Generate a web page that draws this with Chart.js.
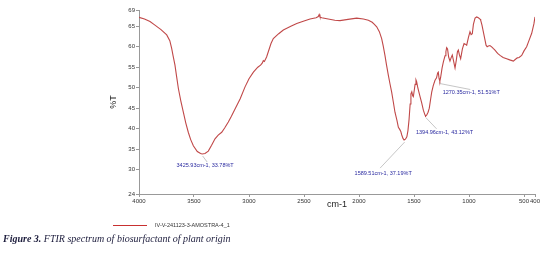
<!DOCTYPE html>
<html><head><meta charset="utf-8">
<script src="https://cdn.jsdelivr.net/npm/chart.js@4/dist/chart.umd.min.js"></script>
<style>
html,body{margin:0;padding:0;background:#fff;}
#wrap{position:relative;width:550px;height:254px;overflow:hidden;}
#c{position:absolute;left:0;top:0;}
#legend{position:absolute;left:113px;top:222px;font:5.5px "Liberation Sans",Arial,sans-serif;color:#333;white-space:nowrap;}
#legend span.line{display:inline-block;width:34px;height:1.5px;background:#c83030;vertical-align:middle;margin-right:8px;}
#caption{position:absolute;left:3px;top:233px;font:italic 10px "Liberation Serif","Times New Roman",serif;color:#1c1c3c;white-space:nowrap;}
#caption b{font-weight:bold;}
</style></head>
<body>
<div id="wrap">
<canvas id="c" width="550" height="254"></canvas>
<div id="legend"><span class="line"></span>IV-V-241123-3-AMOSTRA-4_1</div>
<div id="caption"><b>Figure 3.</b> FTIR spectrum of biosurfactant of plant origin</div>
</div>
<script>
const seriesName = "IV-V-241123-3-AMOSTRA-4_1";
const wavenumbers = [4000,3950,3900,3855,3800,3748,3720,3703,3690,3673,3658,3642,3620,3597,3575,3552,3530,3506,3470,3440,3426,3400,3370,3340,3309,3280,3248,3220,3188,3160,3127,3080,3036,3000,2960,2920,2895,2880,2870,2860,2840,2800,2779,2730,2688,2620,2566,2500,2445,2390,2370,2362,2355,2339,2280,2220,2173,2100,2021,1960,1915,1880,1860,1839,1815,1794,1780,1764,1750,1733,1718,1703,1688,1673,1655,1642,1630,1620,1612,1600,1590,1578,1565,1555,1545,1535,1528,1520,1512,1506,1497,1490,1482,1476,1468,1460,1445,1430,1415,1400,1395,1385,1372,1361,1350,1339,1325,1309,1295,1285,1279,1272,1265,1258,1245,1233,1218,1210,1203,1195,1185,1173,1163,1152,1140,1127,1115,1105,1097,1087,1076,1060,1045,1030,1021,1005,991,981,970,960,945,930,915,900,894,882,870,857,845,835,824,810,794,780,764,740,718,690,658,630,597,580,561,545,521,500,476,455,430,410,400];
const transmittance = [67.2,66.8,66.2,65.3,64.2,62.9,61.5,59.6,57.8,55.5,52.7,49.8,46.8,44.0,41.4,39.1,37.3,35.8,34.4,33.9,33.8,33.9,34.5,35.9,37.5,38.4,39.1,40.2,41.6,43.0,44.8,47.3,50.2,52.2,53.8,55.0,55.5,56.0,56.6,56.4,57.5,60.8,62.0,63.2,64.1,65.0,65.7,66.3,66.8,67.1,67.4,67.9,67.3,67.1,66.8,66.5,66.4,66.7,67.0,66.8,66.5,66.0,65.5,64.9,63.7,62.0,60.2,57.9,55.6,53.0,50.9,48.9,46.5,44.0,42.0,40.3,39.8,39.3,38.5,37.6,37.2,37.4,38.0,39.5,42.2,46.0,48.5,49.0,48.0,47.8,49.5,50.8,51.9,51.5,50.3,49.4,47.8,46.3,44.5,43.3,43.1,43.3,44.0,45.0,47.0,48.9,50.5,51.8,52.4,53.6,53.8,52.2,51.6,52.5,54.8,56.3,57.8,58.8,59.8,59.5,57.5,56.5,57.3,58.0,56.5,54.8,56.8,58.8,59.2,58.0,57.1,59.5,60.8,60.6,60.4,62.3,63.7,63.0,63.2,65.5,67.0,67.3,67.1,66.8,66.5,65.3,63.7,62.0,60.4,60.0,60.2,60.3,60.0,59.6,59.2,58.4,57.9,57.4,57.1,56.8,56.5,56.9,57.3,57.4,57.9,59.0,60.0,61.5,63.3,65.6,67.3];
const xTicks = [4000,3500,3000,2500,2000,1500,1000,500,400];
const yTicks = [24,30,35,40,45,50,55,60,65,69];
const peakWavenumbers = [3425.93,1589.51,1394.96,1270.35];
const peakTransmittance = [33.78,37.19,43.12,51.51];
// label placement (pixel offsets from the peak point): leader end and label centre
const peakLabelOffsets = [[5,8,3,11],[-24,28,-21,33],[11,13,19,17],[31,8,32,11]];

const peakLabels = {
  id:'peakLabels',
  afterDatasetsDraw(chart){
    const ctx = chart.ctx, xs = chart.scales.x, ys = chart.scales.y;
    ctx.save();
    ctx.font = '5.5px "Liberation Sans", Arial, sans-serif';
    ctx.textAlign = 'center'; ctx.textBaseline = 'middle';
    peakWavenumbers.forEach((w,i)=>{
      const px = xs.getPixelForValue(w), py = ys.getPixelForValue(peakTransmittance[i]);
      const o = peakLabelOffsets[i];
      ctx.strokeStyle = '#b8b8b8'; ctx.lineWidth = 0.8;
      ctx.beginPath(); ctx.moveTo(px+0.5, py+2); ctx.lineTo(px+o[0], py+o[1]); ctx.stroke();
      ctx.fillStyle = '#2a2aa0';
      ctx.fillText(w.toFixed(2)+'cm-1, '+peakTransmittance[i].toFixed(2)+'%T', px+o[2], py+o[3]);
    });
    ctx.restore();
  }
};

const pts = wavenumbers.map((w,i)=>({x:w,y:transmittance[i]}));
const tickFont = {family:'"Liberation Sans", Arial, sans-serif', size:6};
new Chart(document.getElementById('c'), {
  type:'line',
  data:{datasets:[{label:seriesName,data:pts,borderColor:'#c04848',borderWidth:1.1,pointRadius:0,tension:0,fill:false}]},
  options:{
    responsive:false, animation:false, maintainAspectRatio:false,
    layout:{padding:{left:0,top:10,right:15,bottom:0}},
    plugins:{legend:{display:false},tooltip:{enabled:false}},
    scales:{
      x:{type:'linear',reverse:true,min:400,max:4000,
        afterBuildTicks:s=>{s.ticks = xTicks.map(v=>({value:v}));},
        afterFit:s=>{s.height=60;},
        ticks:{autoSkip:false,maxRotation:0,minRotation:0,padding:1,color:'#333',font:tickFont,callback:v=>String(v)},
        grid:{drawOnChartArea:false,drawTicks:true,tickLength:3,color:'#999'},
        border:{display:true,color:'#999',width:1},
        title:{display:true,text:'cm-1',color:'#222',font:{family:'"Liberation Sans", Arial, sans-serif',size:9},padding:{top:0,bottom:44}}
      },
      y:{min:24,max:69,
        afterBuildTicks:s=>{s.ticks = yTicks.map(v=>({value:v}));},
        afterFit:s=>{s.width=139;},
        ticks:{autoSkip:false,padding:1,color:'#333',font:tickFont,callback:v=>String(v)},
        grid:{drawOnChartArea:false,drawTicks:true,tickLength:3,color:'#999'},
        border:{display:true,color:'#999',width:1},
        title:{display:true,text:'%T',color:'#222',font:{family:'"Liberation Sans", Arial, sans-serif',size:9},padding:{top:108,bottom:0}}
      }
    }
  },
  plugins:[peakLabels]
});
</script>
</body></html>
